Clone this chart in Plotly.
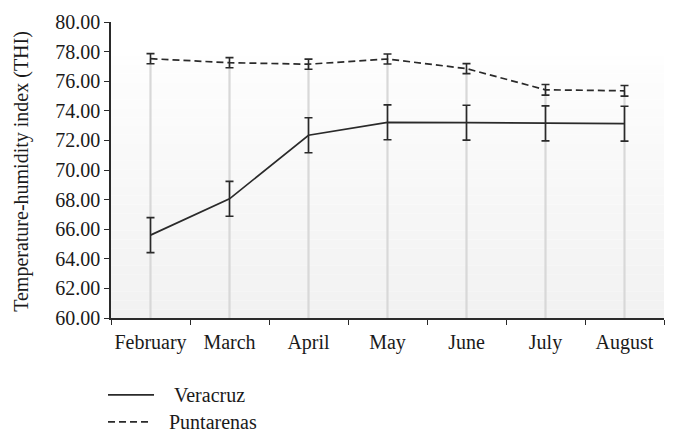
import plotly.graph_objects as go

months = ["February", "March", "April", "May", "June", "July", "August"]
veracruz = [65.6, 68.05, 72.35, 73.22, 73.2, 73.15, 73.13]
veracruz_err = [1.18, 1.18, 1.18, 1.18, 1.18, 1.18, 1.18]
puntarenas = [77.52, 77.25, 77.15, 77.5, 76.85, 75.42, 75.35]
puntarenas_err = [0.34, 0.34, 0.34, 0.34, 0.34, 0.36, 0.36]
y_ticks = [60, 62, 64, 66, 68, 70, 72, 74, 76, 78, 80]
y_min = 60
series_names = ["Veracruz", "Puntarenas"]

FONT = "Liberation Serif"
INK = "#2a2a2a"
TXT = "#1a1a1a"

fig = go.Figure()

# drop lines from the upper series down to the axis
fig.add_trace(go.Scatter(
    x=months, y=puntarenas, mode="markers", marker=dict(size=0.1, opacity=0),
    showlegend=False, hoverinfo="skip",
    error_y=dict(type="data", symmetric=False,
                 array=[0] * len(puntarenas),
                 arrayminus=[v - y_min for v in puntarenas],
                 color="#d8d8d8", thickness=2.2, width=0),
))

fig.add_trace(go.Scatter(
    x=months, y=veracruz, mode="lines", name=series_names[0], showlegend=False,
    line=dict(color=INK, width=1.7),
    error_y=dict(type="data", array=veracruz_err, color=INK, thickness=1.6, width=4),
))
fig.add_trace(go.Scatter(
    x=months, y=puntarenas, mode="lines", name=series_names[1], showlegend=False,
    line=dict(color=INK, width=1.7, dash="7px,4px"),
    error_y=dict(type="data", array=puntarenas_err, color=INK, thickness=1.6, width=4),
))

# vertical gradient background (white at top to light gray at bottom)
n = 30
top = 0.885
shapes = []
for i in range(n):
    y0 = top * i / n
    y1 = top * (i + 1) / n
    t = (i + 0.5) / n  # 0 bottom -> 1 top
    c = int(round(241 + (254 - 241) * t))
    shapes.append(dict(type="rect", xref="x domain", yref="y domain",
                       x0=0, x1=1, y0=y0, y1=y1, layer="below",
                       line=dict(width=0), fillcolor=f"rgb({c},{c},{c})"))

# legend drawn below the plot (line samples + labels)
legend_rows = [(-0.260, 0.0778, "solid", 0.110), (-0.351, 0.0705, "7px,4px", 0.101)]
annotations = [dict(text="Temperature-humidity index (THI)", textangle=-90,
                    xref="paper", yref="paper", x=-0.161, y=0.497,
                    xanchor="center", yanchor="middle", showarrow=False,
                    font=dict(family=FONT, size=20, color=TXT))]
for name, (ly, lx1, dash, tx) in zip(series_names, legend_rows):
    shapes.append(dict(type="line", xref="paper", yref="paper",
                       x0=-0.0054, x1=lx1, y0=ly, y1=ly,
                       line=dict(color=INK, width=1.7, dash=dash)))
    annotations.append(dict(text=name, xref="paper", yref="paper", x=tx, y=ly,
                            xanchor="left", yanchor="middle", showarrow=False,
                            font=dict(family=FONT, size=20, color=TXT)))

# the page body adds an 8px margin, so the figure is drawn 8px smaller
fig.update_layout(
    width=671, height=436,
    margin=dict(l=103, r=15, t=14, b=126),
    paper_bgcolor="white", plot_bgcolor="rgba(0,0,0,0)",
    font=dict(family=FONT, color=TXT, size=20),
    shapes=shapes, annotations=annotations,
    showlegend=False,
)
fig.update_xaxes(
    type="category", range=[-0.5, 6.5], showgrid=False, zeroline=False,
    showline=True, linecolor=INK, linewidth=1.6, automargin=False,
    ticks="outside", tickson="boundaries", ticklen=5, tickwidth=1.4, tickcolor=INK,
    tickangle=0, ticklabelstandoff=5, tickfont=dict(family=FONT, size=20),
)
fig.update_yaxes(
    range=[60, 80], tickvals=y_ticks, tickformat=".2f", showgrid=False, zeroline=False,
    showline=True, linecolor=INK, linewidth=1.6, automargin=False,
    ticks="outside", ticklen=5, tickwidth=1.4, tickcolor=INK,
    tickfont=dict(family=FONT, size=20),
)

fig.write_html("out.html")
